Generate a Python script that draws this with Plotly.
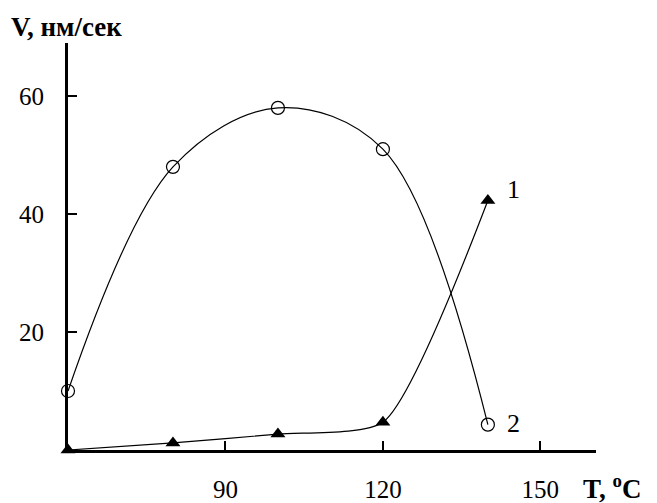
import plotly.graph_objects as go

# Temperature, °C
temperature = [60, 80, 100, 120, 140]
# Curve 1 (filled triangles) and curve 2 (open circles), V in nm/s
rate_1 = [0, 1.2, 2.7, 4.7, 42.3]
rate_2 = [10, 48, 58, 51, 4.3]

x_ticks = [90, 120, 150]
y_ticks = [20, 40, 60]

FONT = "Liberation Serif"

fig = go.Figure()

fig.add_trace(go.Scatter(
    x=temperature, y=rate_2, mode="lines+markers",
    line=dict(color="black", width=1.2, shape="spline", smoothing=1.0),
    marker=dict(symbol="circle-open", size=13, color="black", line=dict(width=1.2)),
    cliponaxis=False, showlegend=False,
))
fig.add_trace(go.Scatter(
    x=temperature, y=rate_1, mode="lines+markers",
    line=dict(color="black", width=1.2, shape="spline", smoothing=0.6),
    marker=dict(symbol="triangle-up", size=13, color="black"),
    cliponaxis=False, showlegend=False,
))

# Curve numbers
fig.add_annotation(x=temperature[-1], y=rate_1[-1], text="1", showarrow=False,
                   xanchor="left", xshift=17, yshift=11, font=dict(family=FONT, size=26, color="black"))
fig.add_annotation(x=temperature[-1], y=rate_2[-1], text="2", showarrow=False,
                   xanchor="left", xshift=17, yshift=1, font=dict(family=FONT, size=26, color="black"))

# Axis titles
fig.add_annotation(xref="paper", yref="paper", x=-0.112, y=1.039, xanchor="left", yanchor="middle",
                   text="<b>V, нм/сек</b>", showarrow=False,
                   font=dict(family=FONT, size=27, color="black"))
fig.add_annotation(xref="paper", yref="paper", x=0.972, y=-0.091, xanchor="left", yanchor="middle",
                   text="<b>T, <sup>o</sup>C</b>", showarrow=False,
                   font=dict(family=FONT, size=27, color="black"))

fig.update_xaxes(
    range=[60, 160.6], tickvals=x_ticks, ticktext=[str(v) for v in x_ticks],
    showline=True, linecolor="black", linewidth=3, showgrid=False, zeroline=False,
    ticks="inside", ticklen=9, tickwidth=2, tickcolor="black",
    ticklabelstandoff=15, automargin=False,
    tickfont=dict(family=FONT, size=25, color="black"),
)
fig.update_yaxes(
    range=[0, 69], tickvals=y_ticks, ticktext=[str(v) for v in y_ticks],
    showline=True, linecolor="black", linewidth=3, showgrid=False, zeroline=False,
    ticks="inside", ticklen=9, tickwidth=2, tickcolor="black",
    ticklabelstandoff=16, automargin=False,
    tickfont=dict(family=FONT, size=25, color="black"),
)

fig.update_layout(
    width=657, height=503,
    margin=dict(l=68, r=61, t=43, b=53),
    paper_bgcolor="white", plot_bgcolor="white",
)

fig.write_html("out.html")
